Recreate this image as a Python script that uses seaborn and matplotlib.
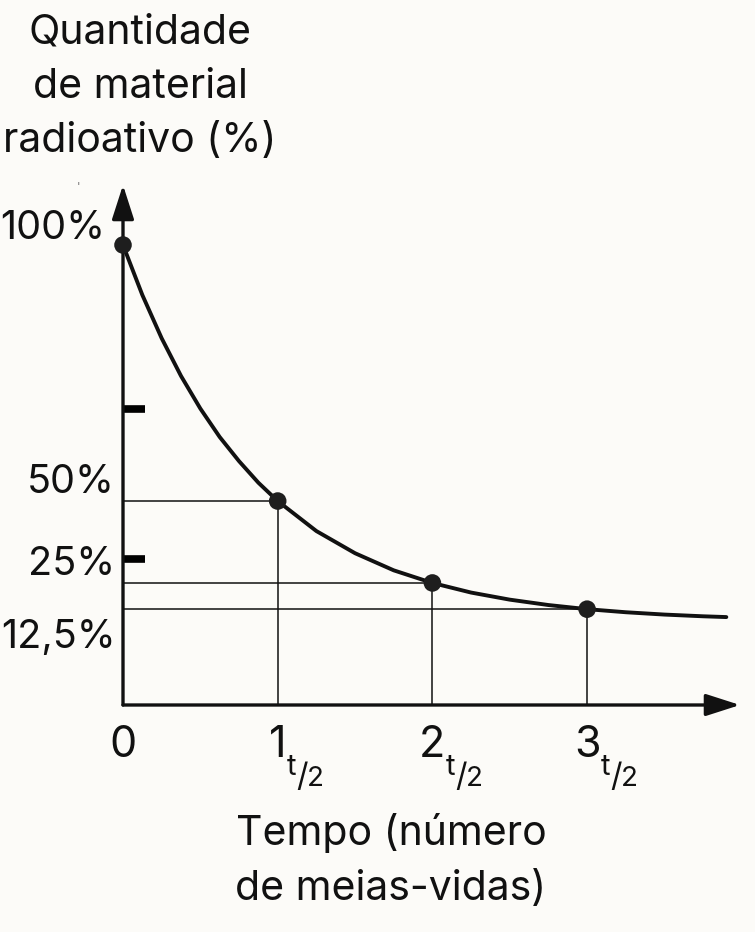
import numpy as np
import seaborn as sns
import matplotlib.pyplot as plt

# marked points: time in half-lives, remaining amount in %
half_lives = [0, 1, 2, 3]
amount = [100, 50, 25, 12.5]
amount_labels = ['100%', '50%', '25%', '12,5%']
time_labels = ['0', '1', '2', '3']

# decay curve
curve_t = [0, 0.125, 0.25, 0.375, 0.5, 0.625, 0.75, 0.875, 1.0,
           1.25, 1.5, 1.75, 2.0, 2.25, 2.5, 2.75, 3.0, 3.25, 3.5, 3.75, 3.9]
curve_amount = [100, 91.7, 84.1, 77.1, 70.7, 64.8, 59.5, 54.5, 50.0,
                42.0, 35.4, 29.7, 25.0, 21.0, 17.7, 14.9, 12.5, 10.5, 8.8, 7.4, 6.7]

# two stray dashes on the vertical axis
stray_marks = [70.6, 33.6]

title_lines = ['Quantidade', 'de material', 'radioativo (%)']
xlabel_lines = ['Tempo (número', 'de meias-vidas)']

sns.set_style('white')
plt.rcParams['font.family'] = ['Inter', 'DejaVu Sans']
ink = '#111111'
bg = '#fcfbf8'

# the drawing squeezes the vertical axis (height above the time axis, px)
base_h, span_h, power = 83.5, 376.5, 1.644


def fwd(p):
    q = np.asarray(p, dtype=float) / 100
    return base_h + span_h * np.sign(q) * np.abs(q) ** power


def inv(h):
    d = np.asarray(h, dtype=float) - base_h
    return 100 * np.sign(d) * (np.abs(d) / span_h) ** (1 / power)


fig = plt.figure(figsize=(7.55, 9.32), dpi=100, facecolor=bg)
ax = fig.add_axes([123 / 755, (932 - 705) / 932, 617 / 755, 520 / 932])
ax.set_facecolor(bg)
ax.set_yscale('function', functions=(fwd, inv))
y_bottom = float(inv(0))
ax.set_xlim(0, 617 / 154.7)
ax.set_ylim(y_bottom, float(inv(520)))

# guide lines to the marked points
ax.hlines(amount[1:], 0, half_lives[1:], color=ink, lw=1.1)
ax.vlines(half_lives[1:], y_bottom, amount[1:], color=ink, lw=1.1)

sns.lineplot(x=curve_t, y=curve_amount, color=ink, lw=2.8, ax=ax, clip_on=False, zorder=4)
sns.scatterplot(x=half_lives, y=amount, s=160, color='#1e1e1e', edgecolor='none',
                ax=ax, clip_on=False, zorder=5)

# axes with arrow heads
arrow = dict(arrowstyle='-|>,head_length=1.4,head_width=0.45', mutation_scale=15,
             lw=2.4, color=ink, shrinkA=0, shrinkB=0)
ax.annotate('', xy=(1, 0), xytext=(0, 0), xycoords='axes fraction', arrowprops=arrow)
ax.annotate('', xy=(0, 1), xytext=(0, 0), xycoords='axes fraction', arrowprops=arrow)

sns.despine(ax=ax, left=True, bottom=True)
ax.set_xticks([])
ax.set_yticks(stray_marks)
ax.tick_params(axis='y', left=True, direction='in', length=16, width=5.5,
               color='#000', labelleft=False)
ax.minorticks_off()

fs = 31
# y labels (offsets in px as in the drawing)
label_offsets = [(-18, 6), (-8, 8), (-8, 8), (-7, -39)]
for p, lab, (dx, dy) in zip(amount, amount_labels, label_offsets):
    ax.annotate(lab, xy=(0, p), xycoords='data', xytext=(dx, dy), textcoords='offset pixels',
                ha='right', va='baseline', fontsize=28.5, color=ink)

# time labels with t/2 subscript
for t, lab in zip(half_lives, time_labels):
    digit = ax.annotate(lab, xy=(t, 0), xycoords=('data', 'axes fraction'), xytext=(0, -52),
                        textcoords='offset pixels', ha='center', va='baseline',
                        fontsize=fs, color=ink)
    if t == 0:
        continue
    for s, dx, dy, size in [('t', 0, -70, 21), ('/', 10, -81, 23), ('2', 20, -81, 20)]:
        ax.annotate(s, xy=(1, 0), xycoords=(digit, 'axes fraction'), xytext=(dx, dy),
                    textcoords='offset pixels', ha='left', va='baseline',
                    fontsize=size, color=ink)

for line, base in zip(title_lines, [43, 98, 152]):
    fig.text(140 / 755, 1 - base / 932, line, ha='center', va='baseline', fontsize=29.5, color=ink)
for line, base in zip(xlabel_lines, [845, 900]):
    fig.text(391 / 755, 1 - base / 932, line, ha='center', va='baseline', fontsize=29.5, color=ink)

# small stray mark above the vertical axis label
fig.text(78 / 755, 1 - 190 / 932, "'", ha='center', va='baseline', fontsize=8, color='#777777')

fig.savefig('out.png', dpi=100, facecolor=bg)
